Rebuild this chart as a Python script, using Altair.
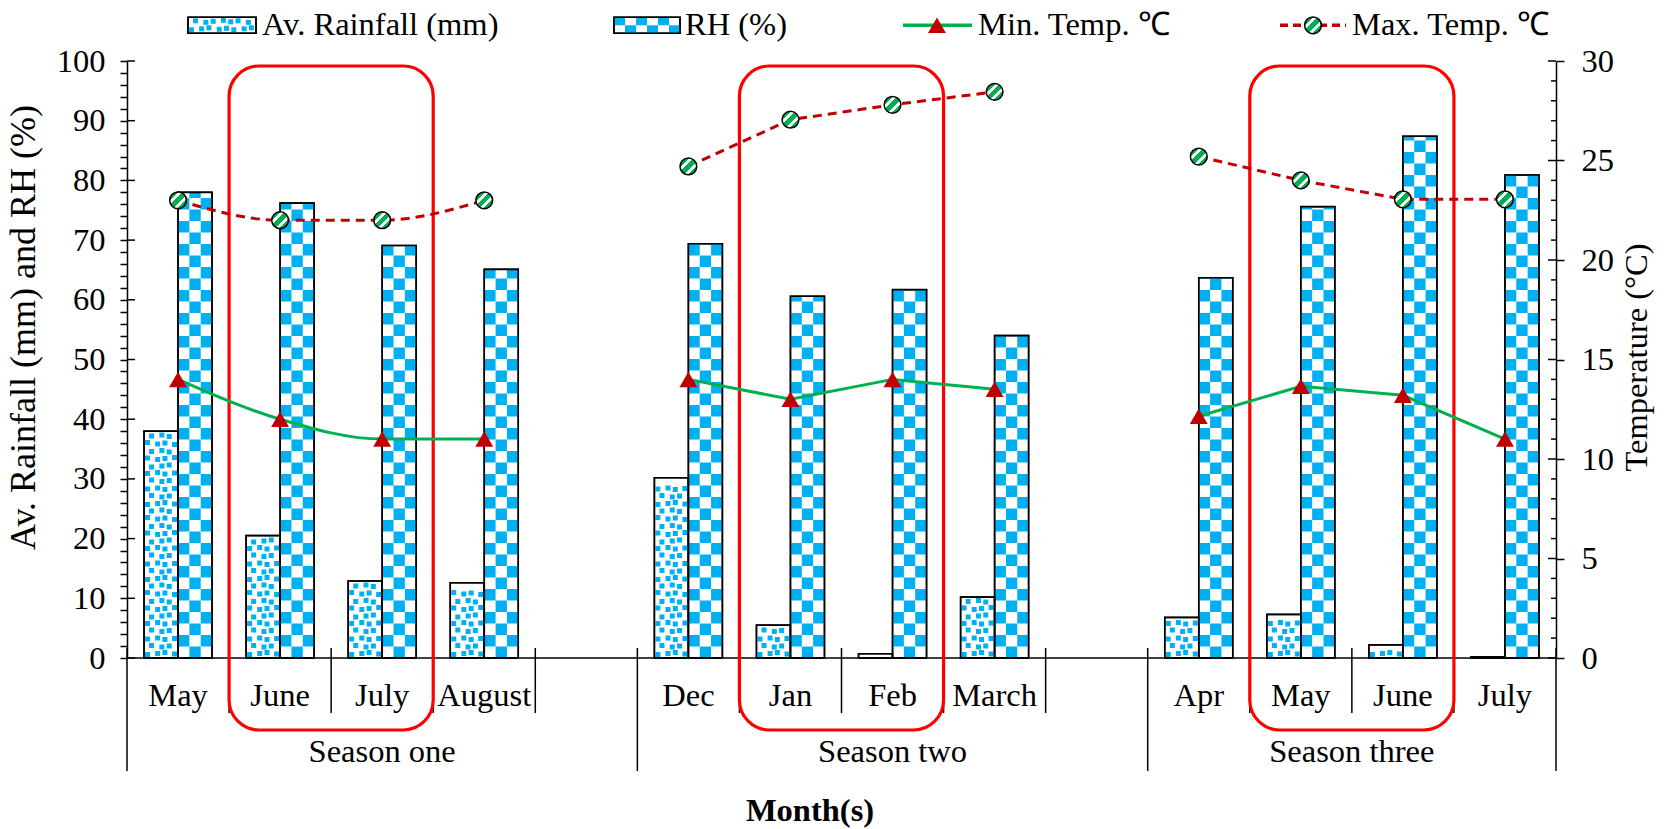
import altair as alt
import pandas as pd

# ---------------- data ----------------
seasons = ["Season one", "Season two", "Season three"]
season_months = [["May", "June", "July", "August"],
                 ["Dec", "Jan", "Feb", "March"],
                 ["Apr", "May", "June", "July"]]
season_slots = [5, 5, 4]          # month slots per season (incl. one blank slot)
rainfall = [38.0, 20.5, 12.9, 12.6, 30.2, 5.5, 0.7, 10.2, 6.8, 7.3, 2.2, 0.2]
rh = [78.0, 76.2, 69.1, 65.1, 69.4, 60.6, 61.7, 54.0, 63.7, 75.6, 87.4, 80.9]
min_temp = [14.0, 12.0, 11.0, 11.0, 14.0, 13.0, 14.0, 13.5, 12.15, 13.65, 13.2, 11.0]
max_temp = [23.0, 22.0, 22.0, 23.0, 24.7, 27.05, 27.8, 28.45, 25.2, 24.0, 23.05, 23.05]
highlight_months = [[1, 2], [1, 2], [1, 2]]   # boxed months inside each season
smooth_seasons = ["Season one"]                # seasons drawn with smoothed lines

legend_labels = ["Av. Rainfall (mm)", "RH (%)", "Min. Temp. ℃", "Max. Temp. ℃"]
y_left_title = "Av. Rainfall (mm) and RH (%)"
y_right_title = "Temperature (°C)"
x_title = "Month(s)"
left_ticks = list(range(0, 101, 10))
right_ticks = list(range(0, 31, 5))

# ---------------- layout / style ----------------
W, H = 1429, 597
PAD = {"left": 127, "top": 61, "right": 110, "bottom": 171}
N_SLOTS = sum(season_slots)
PX_X = W / N_SLOTS
PX_Y = H / 100.0
FONT = "Liberation Serif"
FS = 32.5
BLUE = "#00B0F0"
GREEN = "#00B050"
DARK_RED = "#C00000"
RED = "#FF0000"


def ux(px):
    return px / PX_X


def uy(px):
    return px / PX_Y


def fx(px):  # absolute figure px -> slot units
    return (px - PAD["left"]) / PX_X


def fy(px):  # absolute figure px -> left-axis units
    return (PAD["top"] + H - px) / PX_Y


# ---------------- tables ----------------
rows = []
k = 0
start = 0
season_rows = []
box_rows = []
for s, months in enumerate(season_months):
    for j, m in enumerate(months):
        rows.append(dict(season=seasons[s], month=m, c=start + j + 0.5,
                         rain=rainfall[k], rh=rh[k], tmin=min_temp[k],
                         tmax=max_temp[k], zero=0.0))
        k += 1
    season_rows.append(dict(label=seasons[s], c=start + season_slots[s] / 2.0, zero=0.0))
    hm = highlight_months[s]
    box_rows.append(dict(x=start + hm[0], x2=start + hm[-1] + 1,
                         y=fy(66), y2=fy(730)))
    start += season_slots[s]
df = pd.DataFrame(rows)
df_smooth = df[df.season.isin(smooth_seasons)]
df_linear = df[~df.season.isin(smooth_seasons)]
season_df = pd.DataFrame(season_rows)
box_df = pd.DataFrame(box_rows)

BW = ux(34)


def checker_cells(x0, x1, y0, y1, ncols, cell_h_px):
    out = []
    cw = (x1 - x0) / ncols
    ch = uy(cell_h_px)
    r = 0
    y = y0
    while y < y1 - 1e-9:
        top = min(y + ch, y1)
        for c in range(ncols):
            if (r + c) % 2 == 1:
                out.append({"x": x0 + c * cw, "x2": x0 + (c + 1) * cw, "y": y, "y2": top})
        r += 1
        y += ch
    return out


def dot_cells(x0, x1, y0, y1, dot_px=5.0, step_x=8.5, step_y=7.5):
    out = []
    wpx = (x1 - x0) * PX_X
    hpx = (y1 - y0) * PX_Y
    r = 0
    yp = 2.0
    while yp + dot_px <= hpx - 1.0:
        xp = 2.0 if r % 2 == 0 else 6.25
        c = 0
        while xp + dot_px <= wpx - 1.0:
            jx = ((r * 5 + c * 3) % 5 - 2) * 0.6
            jy = ((r * 3 + c * 7) % 5 - 2) * 0.5
            px0 = min(max(xp + jx, 1.0), wpx - 1.0 - dot_px)
            py0 = max(yp + jy, 1.0)
            out.append({"x": x0 + ux(px0), "x2": x0 + ux(px0 + dot_px),
                        "y": y0 + uy(py0), "y2": y0 + uy(py0 + dot_px)})
            xp += step_x
            c += 1
        yp += step_y
        r += 1
    return out


bars = []
cells = []
for _, r in df.iterrows():
    bars.append({"x": r.c - BW, "x2": r.c, "y": 0.0, "y2": r.rain})
    bars.append({"x": r.c, "x2": r.c + BW, "y": 0.0, "y2": r.rh})
    cells += dot_cells(r.c - BW, r.c, 0.0, r.rain)
    cells += checker_cells(r.c, r.c + BW, 0.0, r.rh, 3, 11.5)

# legend swatches (figure px positions)
LEG_Y = 25.3
sw_y0, sw_y1 = fy(LEG_Y + 8), fy(LEG_Y - 8)
rain_sw = (fx(188), fx(256))
rh_sw = (fx(614), fx(680))
bars.append({"x": rain_sw[0], "x2": rain_sw[1], "y": sw_y0, "y2": sw_y1})
bars.append({"x": rh_sw[0], "x2": rh_sw[1], "y": sw_y0, "y2": sw_y1})
cells += dot_cells(rain_sw[0], rain_sw[1], sw_y0, sw_y1)
cells += checker_cells(rh_sw[0], rh_sw[1], sw_y0, sw_y1, 6, 8)
bars_df = pd.DataFrame(bars)
cells_df = pd.DataFrame(cells)

leg_text_df = pd.DataFrame({
    "label": legend_labels,
    "x": [fx(262), fx(685), fx(978), fx(1352)],
    "y": [fy(LEG_Y)] * 4,
})
leg_min_line = pd.DataFrame({"x": [fx(903)], "x2": [fx(972)], "y": [fy(LEG_Y)]})
leg_max_line = pd.DataFrame({"x": [fx(1280)], "x2": [fx(1346)], "y": [fy(LEG_Y)]})
leg_min_pt = pd.DataFrame({"x": [fx(937)], "y": [fy(LEG_Y)]})
leg_max_pt = pd.DataFrame({"x": [fx(1313)], "y": [fy(LEG_Y)]})

# separators below the x axis
sep_rows = []
bounds = [0]
for n in season_slots:
    bounds.append(bounds[-1] + n)
for b in range(N_SLOTS + 1):
    long_ = b in bounds
    sep_rows.append({"b": b, "yt": uy(10), "yb": -uy(113 if long_ else 55)})
sep_df = pd.DataFrame(sep_rows)
axisline_df = pd.DataFrame({"x": [0], "x2": [N_SLOTS], "y": [0.0]})
xtitle_df = pd.DataFrame({"label": [x_title], "x": [fx(810)], "zero": [0.0]})

lt_df = pd.DataFrame({"v": left_ticks, "x": [0.0] * len(left_ticks),
                      "x2": [ux(8)] * len(left_ticks)})
rt_vals = list(range(0, 31))
rt_df = pd.DataFrame({"v": rt_vals,
                      "x": [N_SLOTS - ux(8 if v % 5 == 0 else 5) for v in rt_vals],
                      "x2": [N_SLOTS] * len(rt_vals)})

# ---------------- encodings ----------------
xs = alt.Scale(domain=[0, N_SLOTS], nice=False, zero=False)
ysL = alt.Scale(domain=[0, 100], nice=False, zero=False)
ysR = alt.Scale(domain=[0, 30], nice=False, zero=False)


def ex(f):
    return alt.X(f, type="quantitative", scale=xs, axis=None)


def eyL(f, axis=None):
    return alt.Y(f, type="quantitative", scale=ysL, axis=axis)


def eyR(f, axis=None):
    return alt.Y(f, type="quantitative", scale=ysR, axis=axis)


left_axis = alt.Axis(
    orient="left",
    values=list(range(0, 101, 2)),
    labelExpr="datum.value % 10 === 0 ? datum.label : ''",
    tickSize=7, tickWidth=1.5, domainWidth=1.5, labelPadding=15,
    labelOverlap=False, labelFlush=False, grid=False,
    title=y_left_title, titleFontSize=36, titleAngle=270, titleX=-104, titleY=266,
    titleAlign="center", titleBaseline="middle",
)
right_axis = alt.Axis(
    orient="right", values=right_ticks,
    tickSize=8, tickWidth=1.5, domainWidth=1.5, labelPadding=17,
    labelOverlap=False, labelFlush=False, grid=False,
    title=y_right_title, titleAngle=270, titleX=80, titleY=296,
    titleAlign="center", titleBaseline="middle",
)

grad = alt.LinearGradient(
    gradient="linear", x1=0, y1=0, x2=1, y2=1,
    stops=[alt.GradientStop(color=GREEN, offset=0.0),
           alt.GradientStop(color=GREEN, offset=0.28),
           alt.GradientStop(color="white", offset=0.28),
           alt.GradientStop(color="white", offset=0.40),
           alt.GradientStop(color=GREEN, offset=0.40),
           alt.GradientStop(color=GREEN, offset=0.60),
           alt.GradientStop(color="white", offset=0.60),
           alt.GradientStop(color="white", offset=0.72),
           alt.GradientStop(color=GREEN, offset=0.72),
           alt.GradientStop(color=GREEN, offset=1.0)],
)

bars_bg = alt.Chart(bars_df).mark_rect(fill="white", stroke="black", strokeWidth=1.5).encode(
    x=ex("x"), x2="x2", y=eyL("y", left_axis), y2="y2")
cells_l = alt.Chart(cells_df).mark_rect(fill=BLUE, strokeWidth=0).encode(
    x=ex("x"), x2="x2", y=eyL("y"), y2="y2")
outlines = alt.Chart(bars_df).mark_rect(fillOpacity=0, stroke="black", strokeWidth=1.6).encode(
    x=ex("x"), x2="x2", y=eyL("y"), y2="y2")
axis_line = alt.Chart(axisline_df).mark_rule(color="black", strokeWidth=1.5).encode(
    x=ex("x"), x2="x2", y=eyL("y"))
seps = alt.Chart(sep_df).mark_rule(color="black", strokeWidth=1.5).encode(
    x=ex("b"), y=eyL("yt"), y2="yb")
lticks = alt.Chart(lt_df).mark_rule(color="black", strokeWidth=1.5).encode(
    x=ex("x"), x2="x2", y=eyL("v"))
month_txt = alt.Chart(df).mark_text(font=FONT, fontSize=FS, baseline="middle", align="center",
                                    dy=38, color="black").encode(
    x=ex("c"), y=eyL("zero"), text="month:N")
season_txt = alt.Chart(season_df).mark_text(font=FONT, fontSize=FS, baseline="middle", align="center",
                                            dy=94, color="black").encode(
    x=ex("c"), y=eyL("zero"), text="label:N")
xtitle_txt = alt.Chart(xtitle_df).mark_text(font=FONT, fontSize=FS, fontWeight="bold", baseline="middle",
                                            align="center", dy=153, color="black").encode(
    x=ex("x"), y=eyL("zero"), text="label:N")
boxes = alt.Chart(box_df).mark_rect(fillOpacity=0, stroke=RED, strokeWidth=3.2, cornerRadius=30).encode(
    x=ex("x"), x2="x2", y=eyL("y"), y2="y2")
leg_txt = alt.Chart(leg_text_df).mark_text(font=FONT, fontSize=FS, baseline="middle", align="left",
                                           color="black").encode(
    x=ex("x"), y=eyL("y"), text="label:N")
leg_l1 = alt.Chart(leg_min_line).mark_rule(color=GREEN, strokeWidth=3.5).encode(
    x=ex("x"), x2="x2", y=eyL("y"))
leg_l2 = alt.Chart(leg_max_line).mark_rule(color=DARK_RED, strokeWidth=3.5, strokeDash=[8, 5]).encode(
    x=ex("x"), x2="x2", y=eyL("y"))
leg_p1 = alt.Chart(leg_min_pt).mark_point(shape="triangle-up", filled=True, fill=DARK_RED, size=320,
                                          opacity=1, strokeWidth=0).encode(x=ex("x"), y=eyL("y"))
leg_p2 = alt.Chart(leg_max_pt).mark_point(shape="circle", filled=True, fill=grad, stroke="black",
                                          strokeWidth=1.5, size=280, opacity=1).encode(x=ex("x"), y=eyL("y"))

min_line_s = alt.Chart(df_smooth).mark_line(color=GREEN, strokeWidth=3, interpolate="monotone").encode(
    x=ex("c"), y=eyR("tmin", right_axis), detail="season:N")
min_line_l = alt.Chart(df_linear).mark_line(color=GREEN, strokeWidth=3).encode(
    x=ex("c"), y=eyR("tmin"), detail="season:N")
max_line_s = alt.Chart(df_smooth).mark_line(color=DARK_RED, strokeWidth=3, strokeDash=[9, 6],
                                            interpolate="monotone").encode(
    x=ex("c"), y=eyR("tmax"), detail="season:N")
max_line_l = alt.Chart(df_linear).mark_line(color=DARK_RED, strokeWidth=3, strokeDash=[9, 6]).encode(
    x=ex("c"), y=eyR("tmax"), detail="season:N")
min_pts = alt.Chart(df).mark_point(shape="triangle-up", filled=True, fill=DARK_RED, size=320,
                                   opacity=1, strokeWidth=0).encode(x=ex("c"), y=eyR("tmin"))
max_pts = alt.Chart(df).mark_point(shape="circle", filled=True, fill=grad, stroke="black",
                                   strokeWidth=1.5, size=280, opacity=1).encode(x=ex("c"), y=eyR("tmax"))
rticks = alt.Chart(rt_df).mark_rule(color="black", strokeWidth=1.5).encode(
    x=ex("x"), x2="x2", y=eyR("v"))

chart = alt.layer(
    bars_bg, cells_l, outlines, axis_line, seps, lticks, month_txt, season_txt,
    xtitle_txt, boxes, leg_txt, leg_l1, leg_l2, leg_p1, leg_p2,
    min_line_s, min_line_l, max_line_s, max_line_l, min_pts, max_pts, rticks,
).resolve_scale(y="independent").properties(
    width=W, height=H, autosize=alt.AutoSizeParams(type="none"), padding=PAD,
    background="white",
).configure_view(stroke=None).configure_axis(
    labelFont=FONT, labelFontSize=FS, labelColor="black",
    titleFont=FONT, titleFontSize=FS, titleFontWeight="normal", titleColor="black",
    tickColor="black", domainColor="black",
)

chart.save("out.html", embed_options={"renderer": "svg", "actions": False})
